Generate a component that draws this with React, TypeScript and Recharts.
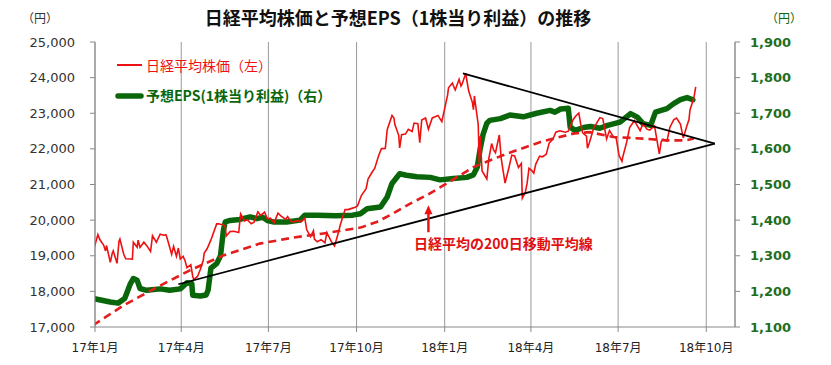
import React from "react";
import { LineChart, Line, XAxis, YAxis, CartesianGrid, ReferenceLine } from "recharts";

const tickDates = ["2017-01-01", "2017-04-01", "2017-07-01", "2017-10-01", "2018-01-01", "2018-04-01", "2018-07-01", "2018-10-01"];
const tickLabels = ["17年1月", "17年4月", "17年7月", "17年10月", "18年1月", "18年4月", "18年7月", "18年10月"];
const leftTicks = [17000, 18000, 19000, 20000, 21000, 22000, 23000, 24000, 25000];
const rightTicks = [1100, 1200, 1300, 1400, 1500, 1600, 1700, 1800, 1900];

const nikkei: [string, number][] = [
  ["2016-12-30", 19114], ["2017-01-04", 19594], ["2017-01-06", 19454], ["2017-01-10", 19301], ["2017-01-12", 19134],
  ["2017-01-13", 19287], ["2017-01-17", 18813], ["2017-01-19", 19072], ["2017-01-20", 19137], ["2017-01-24", 18787],
  ["2017-01-26", 19402], ["2017-01-27", 19467], ["2017-01-31", 19041], ["2017-02-02", 18914], ["2017-02-07", 18910],
  ["2017-02-09", 18907], ["2017-02-10", 19378], ["2017-02-14", 19238], ["2017-02-15", 19437], ["2017-02-17", 19234],
  ["2017-02-21", 19381], ["2017-02-24", 19283], ["2017-02-28", 19118], ["2017-03-02", 19564], ["2017-03-06", 19379],
  ["2017-03-10", 19604], ["2017-03-14", 19577], ["2017-03-16", 19590], ["2017-03-17", 19521], ["2017-03-22", 19041],
  ["2017-03-24", 19262], ["2017-03-27", 18985], ["2017-03-29", 19217], ["2017-03-31", 18909], ["2017-04-03", 18983],
  ["2017-04-05", 18861], ["2017-04-07", 18664], ["2017-04-11", 18747], ["2017-04-13", 18426], ["2017-04-14", 18335],
  ["2017-04-18", 18418], ["2017-04-21", 18620], ["2017-04-24", 18875], ["2017-04-25", 19079], ["2017-04-28", 19196],
  ["2017-05-02", 19445], ["2017-05-08", 19895], ["2017-05-10", 19900], ["2017-05-12", 19883], ["2017-05-15", 19869],
  ["2017-05-17", 19814], ["2017-05-18", 19553], ["2017-05-22", 19678], ["2017-05-26", 19686], ["2017-05-31", 19650],
  ["2017-06-02", 20177], ["2017-06-06", 19979], ["2017-06-09", 20013], ["2017-06-13", 19898], ["2017-06-16", 19943],
  ["2017-06-20", 20230], ["2017-06-23", 20132], ["2017-06-27", 20225], ["2017-06-30", 20033], ["2017-07-03", 20055],
  ["2017-07-07", 19929], ["2017-07-11", 20195], ["2017-07-14", 20118], ["2017-07-19", 20020], ["2017-07-21", 20099],
  ["2017-07-25", 19955], ["2017-07-28", 19959], ["2017-08-01", 19985], ["2017-08-04", 19952], ["2017-08-08", 20055],
  ["2017-08-10", 19729], ["2017-08-14", 19537], ["2017-08-17", 19702], ["2017-08-18", 19470], ["2017-08-21", 19393],
  ["2017-08-25", 19452], ["2017-08-29", 19362], ["2017-08-31", 19646], ["2017-09-05", 19385], ["2017-09-08", 19274],
  ["2017-09-11", 19545], ["2017-09-14", 19865], ["2017-09-19", 20299], ["2017-09-22", 20296], ["2017-09-26", 20330],
  ["2017-09-29", 20356], ["2017-10-02", 20400], ["2017-10-06", 20690], ["2017-10-11", 20881], ["2017-10-13", 21155],
  ["2017-10-17", 21336], ["2017-10-20", 21457], ["2017-10-24", 21805], ["2017-10-27", 22008], ["2017-10-31", 22011],
  ["2017-11-02", 22539], ["2017-11-07", 22937], ["2017-11-09", 22868], ["2017-11-10", 22681], ["2017-11-14", 22380],
  ["2017-11-15", 22028], ["2017-11-17", 22396], ["2017-11-21", 22416], ["2017-11-24", 22550], ["2017-11-28", 22486],
  ["2017-11-30", 22724], ["2017-12-04", 22707], ["2017-12-06", 22177], ["2017-12-08", 22811], ["2017-12-12", 22866],
  ["2017-12-15", 22553], ["2017-12-19", 22868], ["2017-12-22", 22902], ["2017-12-25", 22939], ["2017-12-29", 22764],
  ["2018-01-04", 23506], ["2018-01-05", 23714], ["2018-01-09", 23849], ["2018-01-11", 23710], ["2018-01-12", 23653],
  ["2018-01-16", 23951], ["2018-01-18", 23763], ["2018-01-19", 23808], ["2018-01-23", 24124], ["2018-01-24", 23940],
  ["2018-01-26", 23631], ["2018-01-30", 23291], ["2018-01-31", 23098], ["2018-02-01", 23486], ["2018-02-02", 23274],
  ["2018-02-05", 22682], ["2018-02-06", 21610], ["2018-02-07", 22353], ["2018-02-09", 21382], ["2018-02-14", 21154],
  ["2018-02-16", 21720], ["2018-02-19", 22149], ["2018-02-21", 21970], ["2018-02-23", 21892], ["2018-02-27", 22389],
  ["2018-03-01", 21724], ["2018-03-05", 21042], ["2018-03-07", 21252], ["2018-03-09", 21469], ["2018-03-12", 21824],
  ["2018-03-15", 21803], ["2018-03-19", 21480], ["2018-03-22", 21591], ["2018-03-23", 20617], ["2018-03-26", 20766],
  ["2018-03-28", 21031], ["2018-03-30", 21454], ["2018-04-02", 21388], ["2018-04-04", 21319], ["2018-04-06", 21567],
  ["2018-04-10", 21794], ["2018-04-13", 21778], ["2018-04-17", 21847], ["2018-04-20", 22162], ["2018-04-24", 22278],
  ["2018-04-27", 22467], ["2018-05-01", 22508], ["2018-05-07", 22467], ["2018-05-10", 22497], ["2018-05-15", 22818],
  ["2018-05-18", 22930], ["2018-05-21", 23002], ["2018-05-23", 22689], ["2018-05-25", 22450], ["2018-05-29", 22358],
  ["2018-05-30", 22018], ["2018-06-01", 22171], ["2018-06-06", 22625], ["2018-06-08", 22694], ["2018-06-12", 22878],
  ["2018-06-15", 22851], ["2018-06-19", 22278], ["2018-06-22", 22516], ["2018-06-26", 22342], ["2018-06-29", 22304],
  ["2018-07-02", 21811], ["2018-07-05", 21650], ["2018-07-06", 21788], ["2018-07-10", 22196], ["2018-07-13", 22597],
  ["2018-07-18", 22794], ["2018-07-20", 22697], ["2018-07-24", 22510], ["2018-07-27", 22712], ["2018-07-31", 22553],
  ["2018-08-03", 22525], ["2018-08-08", 22644], ["2018-08-13", 21857], ["2018-08-15", 22204], ["2018-08-17", 22270],
  ["2018-08-21", 22219], ["2018-08-24", 22601], ["2018-08-28", 22813], ["2018-08-31", 22865], ["2018-09-04", 22696],
  ["2018-09-07", 22307], ["2018-09-11", 22664], ["2018-09-13", 22821], ["2018-09-14", 23094], ["2018-09-18", 23420],
  ["2018-09-20", 23740],
];

const eps: [string, number][] = [
  ["2016-12-30", 1180], ["2017-01-17", 1170], ["2017-01-25", 1167], ["2017-02-01", 1180], ["2017-02-07", 1222],
  ["2017-02-10", 1236], ["2017-02-14", 1231], ["2017-02-17", 1208], ["2017-02-24", 1203], ["2017-03-10", 1207],
  ["2017-03-20", 1203], ["2017-03-31", 1207], ["2017-04-07", 1224], ["2017-04-12", 1222], ["2017-04-13", 1189],
  ["2017-04-21", 1187], ["2017-04-27", 1190], ["2017-04-29", 1203], ["2017-05-02", 1265], ["2017-05-08", 1278],
  ["2017-05-12", 1300], ["2017-05-15", 1371], ["2017-05-17", 1395], ["2017-05-22", 1399], ["2017-06-01", 1402],
  ["2017-06-12", 1409], ["2017-06-19", 1404], ["2017-06-25", 1408], ["2017-06-30", 1399], ["2017-07-06", 1395],
  ["2017-07-20", 1395], ["2017-08-03", 1400], ["2017-08-08", 1414], ["2017-08-21", 1414], ["2017-09-09", 1412],
  ["2017-09-27", 1414], ["2017-10-05", 1418], ["2017-10-12", 1432], ["2017-10-26", 1437], ["2017-11-02", 1465],
  ["2017-11-07", 1503], ["2017-11-15", 1530], ["2017-11-22", 1526], ["2017-12-03", 1522], ["2017-12-17", 1520],
  ["2017-12-27", 1513], ["2018-01-10", 1517], ["2018-01-24", 1520], ["2018-01-31", 1527], ["2018-02-04", 1549],
  ["2018-02-07", 1600], ["2018-02-10", 1640], ["2018-02-14", 1672], ["2018-02-17", 1680], ["2018-02-28", 1685],
  ["2018-03-10", 1695], ["2018-03-24", 1690], ["2018-04-07", 1700], ["2018-04-21", 1708], ["2018-04-26", 1703],
  ["2018-05-02", 1712], ["2018-05-10", 1714], ["2018-05-12", 1661], ["2018-05-17", 1652], ["2018-05-26", 1660],
  ["2018-06-02", 1663], ["2018-06-12", 1658], ["2018-06-20", 1666], ["2018-07-03", 1675], ["2018-07-14", 1699],
  ["2018-07-21", 1689], ["2018-07-27", 1671], ["2018-08-04", 1666], ["2018-08-09", 1703], ["2018-08-21", 1713],
  ["2018-08-28", 1727], ["2018-09-04", 1738], ["2018-09-11", 1744], ["2018-09-17", 1738],
];

const ma200: [string, number][] = [
  ["2016-12-30", 17050], ["2017-01-31", 17610], ["2017-03-07", 18120], ["2017-04-10", 18590], ["2017-05-15", 19010],
  ["2017-06-22", 19341], ["2017-07-27", 19510], ["2017-08-31", 19640], ["2017-10-05", 19790], ["2017-10-22", 19948],
  ["2017-11-08", 20183], ["2017-11-26", 20464], ["2017-12-13", 20697], ["2018-01-03", 21025], ["2018-01-31", 21490],
  ["2018-03-07", 21867], ["2018-04-11", 22193], ["2018-05-15", 22428], ["2018-06-01", 22470], ["2018-06-26", 22335],
  ["2018-07-27", 22288], ["2018-08-20", 22240], ["2018-09-10", 22240], ["2018-09-18", 22290],
];

const trendUpper: [string, number][] = [["2018-01-20", 24120], ["2018-10-10", 22150]];
const trendLower: [string, number][] = [["2017-03-29", 18200], ["2018-10-10", 22150]];
const arrowDate = "2017-12-15";
const arrowValues = [19660, 20420];

const BASE = Date.UTC(2017, 0, 1);
const day = (s: string) => {
  const [y, m, d] = s.split("-").map(Number);
  return Math.round((Date.UTC(y, m - 1, d) - BASE) / 86400000);
};
const toPts = (arr: [string, number][]) => arr.map(([s, v]) => ({ d: day(s), v }));

const xTicks = tickDates.map(day);
const FONT = "'DejaVu Sans', 'Noto Sans CJK JP', sans-serif";
const JP = "'Noto Sans CJK JP', 'DejaVu Sans', sans-serif";
const GREEN = "#0a660a";
const RED = "#ee1111";

const ArrowShape = (p: any) => {
  const { x1, y1, x2, y2 } = p;
  return (
    <g>
      <line x1={x1} y1={y1} x2={x2} y2={y2 + 6} stroke={RED} strokeWidth={2.5} />
      <polygon points={`${x2},${y2} ${x2 - 4},${y2 + 9} ${x2 + 4},${y2 + 9}`} fill={RED} />
    </g>
  );
};

export default function App() {
  return (
    <div style={{ position: "absolute", left: 0, top: 0, width: 831, height: 365, background: "#fff" }}>
      <LineChart width={831} height={365} margin={{ top: 42, right: 20, left: 0, bottom: 0 }}>
        <CartesianGrid horizontal={false} vertical stroke="#999" strokeWidth={1} />
        <XAxis
          type="number"
          dataKey="d"
          domain={[0, 668]}
          allowDataOverflow
          ticks={xTicks}
          tickFormatter={(v: number) => tickLabels[xTicks.indexOf(v)] ?? ""}
          height={38}
          tickSize={5}
          tickMargin={11}
          axisLine={{ stroke: "#888" }}
          tickLine={{ stroke: "#888" }}
          tick={{ fontSize: 12, fill: "#222", fontFamily: FONT }}
          interval={0}
        />
        <YAxis
          yAxisId="left"
          orientation="left"
          domain={[17000, 25000]}
          ticks={leftTicks}
          allowDataOverflow
          width={95}
          tickSize={5}
          tickMargin={15}
          tickFormatter={(v: number) => v.toLocaleString("en-US")}
          axisLine={{ stroke: "#888" }}
          tickLine={{ stroke: "#888" }}
          tick={{ fontSize: 13, fill: "#333", fontFamily: FONT }}
          interval={0}
        />
        <YAxis
          yAxisId="right"
          orientation="right"
          domain={[1100, 1900]}
          ticks={rightTicks}
          allowDataOverflow
          width={76}
          tickSize={5}
          tickMargin={10}
          tickFormatter={(v: number) => v.toLocaleString("en-US")}
          axisLine={{ stroke: "#888" }}
          tickLine={{ stroke: "#888" }}
          tick={{ fontSize: 13, fill: "#1e6e1e", fontFamily: FONT, fontWeight: "bold" }}
          interval={0}
        />
        <Line yAxisId="right" data={toPts(eps)} dataKey="v" stroke={GREEN} strokeWidth={5.5} dot={false}
          strokeLinejoin="round" strokeLinecap="round" isAnimationActive={false} />
        <Line yAxisId="left" data={toPts(nikkei)} dataKey="v" stroke={RED} strokeWidth={1.6} dot={false}
          isAnimationActive={false} />
        <Line yAxisId="left" data={toPts(ma200)} dataKey="v" stroke="#e51c1c" strokeWidth={2.6} strokeDasharray="8 5"
          dot={false} isAnimationActive={false} />
        <Line yAxisId="left" data={toPts(trendUpper)} dataKey="v" stroke="#000" strokeWidth={1.8} dot={false}
          isAnimationActive={false} />
        <Line yAxisId="left" data={toPts(trendLower)} dataKey="v" stroke="#000" strokeWidth={1.8} dot={false}
          isAnimationActive={false} />
        <ReferenceLine
          yAxisId="left"
          segment={[{ x: day(arrowDate), y: arrowValues[0] }, { x: day(arrowDate), y: arrowValues[1] }]}
          shape={ArrowShape}
          ifOverflow="visible"
        />
      </LineChart>
      <svg width={831} height={365} style={{ position: "absolute", left: 0, top: 0, pointerEvents: "none" }}>
        <text x={22} y={17} fontSize={12} fill="#333" fontFamily={JP} dominantBaseline="central">（円）</text>
        <text x={398} y={17} fontSize={18} fontWeight="bold" fill="#111" fontFamily={JP} textAnchor="middle" dominantBaseline="central">
          日経平均株価と予想EPS（1株当り利益）の推移
        </text>
        <text x={766} y={17} fontSize={12} fill={GREEN} fontFamily={JP} dominantBaseline="central">（円）</text>
        <line x1={117} y1={65} x2={142} y2={65} stroke={RED} strokeWidth={2} />
        <text x={146} y={65} fontSize={14} fill={RED} fontFamily={JP} dominantBaseline="central">日経平均株価（左）</text>
        <line x1={118} y1={96} x2={141} y2={96} stroke={GREEN} strokeWidth={5.5} strokeLinecap="round" />
        <text x={146} y={95} fontSize={14} fontWeight="bold" fill={GREEN} fontFamily={JP} dominantBaseline="central">
          予想EPS(1株当り利益)（右）
        </text>
        <text x={414} y={243} fontSize={14} fontWeight="bold" fill="#e01010" fontFamily={JP} dominantBaseline="central">
          日経平均の200日移動平均線
        </text>
      </svg>
    </div>
  );
}
